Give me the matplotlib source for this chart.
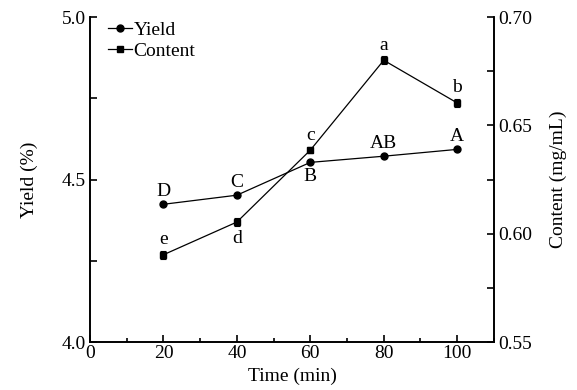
import matplotlib
matplotlib.use("Agg")
import matplotlib.pyplot as plt
from matplotlib.lines import Line2D
from matplotlib.ticker import MultipleLocator, FormatStrFormatter

plt.rcParams["font.family"] = ["Liberation Serif", "DejaVu Serif"]

time_min = [20, 40, 60, 80, 100]
yield_pct = [4.424, 4.452, 4.553, 4.572, 4.593]
yield_labels = ["D", "C", "B", "AB", "A"]
content = [0.5903, 0.6054, 0.6386, 0.6801, 0.6604]
content_err = [0.0018, 0.0018, 0.0015, 0.0018, 0.0018]
content_labels = ["e", "d", "c", "a", "b"]

fig = plt.figure(figsize=(5.77, 3.90), dpi=100)
ax = fig.add_axes([0.156, 0.123, 0.700, 0.833])
ax2 = ax.twinx()

fs = 14
ax.plot(time_min, yield_pct, "-o", color="black", lw=0.9, ms=5)
ax2.errorbar(time_min, content, yerr=content_err, fmt="-s", color="black",
             lw=0.9, ms=5, elinewidth=0.8, capsize=2.5, capthick=0.8)

ax.set_xlim(0, 110)
ax.set_ylim(4.0, 5.0)
ax2.set_ylim(0.55, 0.70)

ax.xaxis.set_major_locator(MultipleLocator(20))
ax.xaxis.set_minor_locator(MultipleLocator(10))
ax.yaxis.set_major_locator(MultipleLocator(0.5))
ax.yaxis.set_minor_locator(MultipleLocator(0.25))
ax2.yaxis.set_major_locator(MultipleLocator(0.05))
ax2.yaxis.set_minor_locator(MultipleLocator(0.025))
ax.yaxis.set_major_formatter(FormatStrFormatter("%.1f"))
ax2.yaxis.set_major_formatter(FormatStrFormatter("%.2f"))

for a in (ax, ax2):
    a.spines["top"].set_visible(False)
    for s in a.spines.values():
        s.set_linewidth(1.2)
    a.tick_params(which="both", direction="in", width=1.2, labelsize=fs, pad=3)
    a.tick_params(which="major", length=5)
    a.tick_params(which="minor", length=3)
ax.tick_params(axis="y", which="minor", length=5)
ax2.tick_params(axis="y", which="minor", length=5)
ax.tick_params(axis="x", pad=2)

ax.set_xlabel("Time (min)", fontsize=fs, labelpad=4)
ax.set_ylabel("Yield (%)", fontsize=fs, labelpad=17)
ax2.set_ylabel("Content (mg/mL)", fontsize=fs, labelpad=13)

# significance letters
y_pos = ["above", "above", "below", "above", "above"]
for x, y, t, p in zip(time_min, yield_pct, yield_labels, y_pos):
    off = 3 if p == "above" else -4
    ax.annotate(t, (x, y), xytext=(0, off), textcoords="offset points",
                ha="center", va="bottom" if p == "above" else "top", fontsize=fs)
c_pos = ["above", "below", "above", "above", "above"]
for x, y, e, t, p in zip(time_min, content, content_err, content_labels, c_pos):
    off = 2 if p == "above" else -3
    ax2.annotate(t, (x, y + e if p == "above" else y - e), xytext=(0, off),
                 textcoords="offset points", ha="center",
                 va="bottom" if p == "above" else "top", fontsize=fs)

handles = [Line2D([], [], color="black", lw=0.9, marker="o", ms=5),
           Line2D([], [], color="black", lw=0.9, marker="s", ms=5)]
ax.legend(handles, ["Yield", "Content"], loc="upper left",
          bbox_to_anchor=(0.012, 1.03), frameon=False, fontsize=fs,
          handlelength=1.2, handletextpad=0.1, labelspacing=0.2,
          borderaxespad=0.3)

fig.savefig("out.png", dpi=100)
